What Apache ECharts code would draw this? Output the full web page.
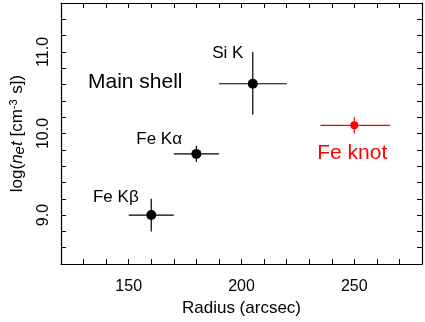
<!DOCTYPE html>
<html>
<head>
<meta charset="utf-8">
<script src="https://cdn.jsdelivr.net/npm/echarts@6/dist/echarts.min.js"></script>
<style>
  html, body { margin: 0; padding: 0; background: #fff; }
  #main { width: 425px; height: 322px; }
</style>
</head>
<body>
<div id="main"></div>
<script>
// 측정점: [radius, log(net), x low, x high, y low, y high]
const shellPoints = [
  [160, 9.00, 150, 170, 8.80, 9.20],   // Fe Kβ
  [180, 9.75, 170, 190, 9.65, 9.85],   // Fe Kα
  [205, 10.61, 190, 220, 10.23, 11.00] // Si K
];
const knotPoints = [
  [250, 10.10, 235, 266, 10.00, 10.20] // Fe knot
];

// 주석 텍스트 (데이터 좌표)
const noteNames = ['Main shell', 'Si K', 'Fe Kα', 'Fe Kβ', 'Fe knot'];
const noteX = [152.9, 193.9, 163.5, 144.3, 249.1];
const noteY = [10.63, 10.98, 9.93, 9.22, 9.76];
const noteSize = [21, 17, 17, 17, 21];
const noteColor = ['#000', '#000', '#000', '#000', '#ff0000'];

const xMin = 120, xMax = 280;
const yMin = 8.4, yMax = 11.6;

const FONT = 'Liberation Sans';

function errorBars(params, api) {
  const c = api.coord([api.value(0), api.value(1)]);
  const xl = api.coord([api.value(2), api.value(1)]);
  const xh = api.coord([api.value(3), api.value(1)]);
  const yl = api.coord([api.value(0), api.value(4)]);
  const yh = api.coord([api.value(0), api.value(5)]);
  const stroke = api.visual('color');
  return {
    type: 'group',
    children: [
      { type: 'line', shape: { x1: xl[0], y1: c[1], x2: xh[0], y2: c[1] }, style: { stroke: stroke, lineWidth: 1.2 } },
      { type: 'line', shape: { x1: c[0], y1: yl[1], x2: c[0], y2: yh[1] }, style: { stroke: stroke, lineWidth: 1.2 } }
    ]
  };
}

const chart = echarts.init(document.getElementById('main'), null, { renderer: 'canvas' });

const baseX = {
  type: 'value', min: xMin, max: xMax, interval: 10,
  axisLine: { show: true, onZero: false, lineStyle: { color: '#000', width: 1.2 } },
  axisTick: { show: true, inside: true, length: 5, lineStyle: { color: '#000', width: 1 } },
  splitLine: { show: false }
};
const baseY = {
  type: 'value', min: yMin, max: yMax, interval: 0.2,
  axisLine: { show: true, onZero: false, lineStyle: { color: '#000', width: 1.2 } },
  axisTick: { show: true, inside: true, length: 5, lineStyle: { color: '#000', width: 1 } },
  splitLine: { show: false }
};

const option = {
  animation: false,
  grid: { left: 59.5, right: 1, top: 1, bottom: 51, containLabel: false },
  xAxis: [
    Object.assign({}, baseX, {
      position: 'bottom',
      name: 'Radius (arcsec)',
      nameLocation: 'middle',
      nameGap: 36,
      nameTextStyle: { fontFamily: FONT, fontSize: 17, color: '#000' },
      axisLabel: {
        show: true, margin: 15, fontFamily: FONT, fontSize: 16, color: '#000',
        formatter: v => (Math.round(v) % 50 === 0 && Math.round(v) > xMin && Math.round(v) < xMax) ? String(Math.round(v)) : ''
      }
    }),
    Object.assign({}, baseX, { position: 'top', axisLabel: { show: false } })
  ],
  yAxis: [
    Object.assign({}, baseY, {
      position: 'left',
      name: 'log({i|n}{s|e}{i|t} [cm{p|-3} s])',
      nameLocation: 'middle',
      nameGap: 34,
      nameRotate: 90,
      nameTextStyle: {
        fontFamily: FONT, fontSize: 17, color: '#000',
        rich: {
          i: { fontFamily: FONT, fontSize: 17, fontStyle: 'italic', color: '#000' },
          s: { fontFamily: FONT, fontSize: 15, fontStyle: 'italic', color: '#000', padding: [4, 0, 0, 0] },
          p: { fontFamily: FONT, fontSize: 11, color: '#000', padding: [0, 1, 8, 0] }
        }
      },
      axisLabel: {
        show: true, rotate: 90, margin: 9, fontFamily: FONT, fontSize: 16, color: '#000',
        formatter: v => (Math.abs(v - Math.round(v)) < 1e-6) ? v.toFixed(1) : ''
      }
    }),
    Object.assign({}, baseY, { position: 'right', axisLabel: { show: false } })
  ],
  series: [
    {
      type: 'custom', name: 'shellErr', xAxisIndex: 0, yAxisIndex: 0,
      renderItem: errorBars, data: shellPoints, itemStyle: { color: '#000' },
      encode: { x: [0, 2, 3], y: [1, 4, 5] }, z: 2
    },
    {
      type: 'scatter', name: 'shell', data: shellPoints.map(p => [p[0], p[1]]),
      symbol: 'circle', symbolSize: 10, itemStyle: { color: '#000', opacity: 1 }, z: 3
    },
    {
      type: 'custom', name: 'knotErr', xAxisIndex: 0, yAxisIndex: 0,
      renderItem: errorBars, data: knotPoints, itemStyle: { color: '#ff0000' },
      encode: { x: [0, 2, 3], y: [1, 4, 5] }, z: 2
    },
    {
      type: 'scatter', name: 'knot', data: knotPoints.map(p => [p[0], p[1]]),
      symbol: 'circle', symbolSize: 8, itemStyle: { color: '#ff0000', opacity: 1 }, z: 3
    },
    {
      type: 'scatter', name: 'notes', symbolSize: 0, silent: true, z: 4,
      itemStyle: { opacity: 1 },
      data: noteNames.map((n, i) => ({
        value: [noteX[i], noteY[i]],
        label: {
          show: true, position: 'inside', formatter: n, opacity: 1,
          fontFamily: FONT, fontSize: noteSize[i], color: noteColor[i]
        }
      }))
    }
  ]
};

chart.setOption(option);
</script>
</body>
</html>
